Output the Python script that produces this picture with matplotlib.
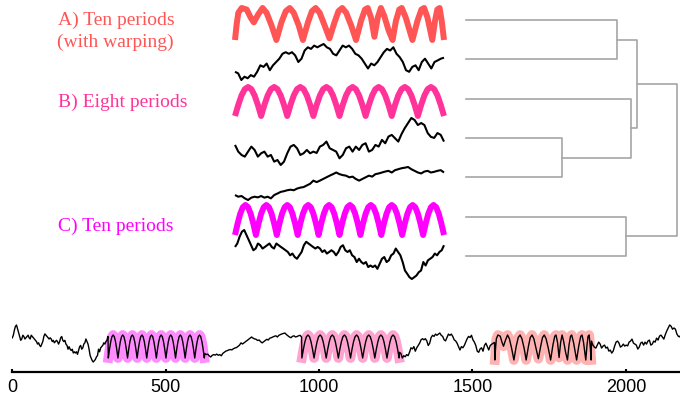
import numpy as np
import matplotlib
matplotlib.use("Agg")
import matplotlib.pyplot as plt

# ---------------- data ----------------
# noise segments of the long series
n1 = [34.2, 36.8, 41.9, 45.7, 47.0, 43.2, 39.4, 35.5, 31.7, 33.0, 36.8, 35.5, 33.0, 34.2,
      35.5, 36.8, 34.2, 33.0, 36.8, 35.5, 34.2, 33.0, 31.7, 30.4, 27.9, 29.2, 26.6, 25.3,
      27.9, 30.4, 35.5, 38.1, 36.8, 35.5, 34.2, 33.0, 34.2, 33.0, 30.4, 31.7, 29.2, 30.4,
      31.7, 30.4, 27.9, 30.4, 34.2, 35.5, 31.7, 30.4, 31.7, 27.9, 26.6, 22.8, 25.3, 22.8,
      21.5, 22.8, 19.0, 20.2, 19.0, 20.2, 17.7, 21.5, 25.3, 26.6, 22.8, 24.1, 27.9, 29.2,
      33.0, 30.4, 27.9, 22.8, 16.4, 13.9, 11.3, 10.0, 11.3, 12.6, 15.1, 16.4, 22.8, 20.2,
      24.1, 25.3, 26.6, 29.2, 27.9, 30.4, 31.7, 35.5]
n2 = [18.6, 17.4, 17.9, 16.2, 15.0, 16.7, 17.4, 16.9, 17.9, 16.7, 17.4, 16.2, 18.6, 19.7,
      20.9, 21.4, 22.1, 22.5, 22.1, 23.3, 24.0, 24.4, 25.6, 26.8, 29.1, 28.0, 29.1, 30.3,
      31.5, 32.7, 33.8, 35.0, 33.8, 33.1, 32.7, 31.5, 32.0, 30.3, 29.1, 30.3, 31.5, 32.7,
      32.0, 33.8, 34.3, 35.0, 35.7, 36.2, 35.0, 36.7, 37.4, 38.1, 38.5, 39.0, 37.4, 36.2,
      35.0, 34.3, 35.7, 36.2, 35.0, 35.5, 36.2, 36.7, 35.0]
n3 = [19.7, 18.6, 14.0, 16.3, 15.2, 17.4, 16.3, 19.7, 24.2, 23.1, 25.4, 20.8, 24.2, 26.5,
      28.8, 32.2, 33.3, 32.2, 33.3, 31.1, 26.5, 28.8, 34.5, 36.7, 35.6, 37.9, 36.7, 37.9,
      39.0, 36.7, 35.6, 32.2, 31.1, 34.5, 37.9, 36.7, 37.9, 35.6, 32.2, 31.1, 28.8, 25.4,
      22.0, 25.4, 24.2, 26.5, 29.9, 33.3, 35.6, 34.5, 36.7, 32.2, 29.9, 26.5, 20.8, 19.7,
      23.1, 24.2, 20.8, 26.5, 28.8, 25.4, 22.0, 26.5, 27.6, 28.8, 29.5]
n4 = [30.9, 26.9, 24.9, 23.9, 26.9, 29.9, 27.9, 23.9, 25.9, 26.9, 23.9, 24.9, 20.9, 21.9,
      18.9, 20.9, 25.9, 29.9, 30.9, 28.9, 24.9, 25.9, 27.9, 25.9, 26.9, 26.1, 29.9, 30.9,
      32.9, 28.9, 27.9, 26.9, 22.9, 24.9, 28.9, 29.9, 26.9, 29.9, 27.9, 30.9, 31.9, 26.9,
      27.9, 30.9, 29.9, 33.9, 31.9, 35.9, 36.9, 34.9, 32.9, 37.4, 41.0, 44.0, 47.0, 45.8,
      42.8, 44.0, 42.8, 38.0, 35.7, 35.1, 38.0, 36.9, 32.9]

# C) ten periods
wave_c = [14, 22.8, 30.3, 35.3, 37, 35.3, 30.3, 22.8,
          14, 22.8, 30.3, 35.3, 37, 35.3, 30.3, 22.8,
          14, 22.8, 30.3, 35.3, 37, 35.3, 30.3, 22.8,
          14, 22.8, 30.3, 35.3, 37, 35.3, 30.3, 22.8,
          14, 22.8, 30.3, 35.3, 37, 35.3, 30.3, 22.8,
          14, 22.8, 30.3, 35.3, 37, 35.3, 30.3, 22.8,
          14, 22.8, 30.3, 35.3, 37, 35.3, 30.3, 22.8,
          14, 22.8, 30.3, 35.3, 37, 35.3, 30.3, 22.8,
          14, 22.8, 30.3, 35.3, 37, 35.3, 30.3, 22.8,
          14, 22.8, 30.3, 35.3, 37, 35.3, 30.3, 22.8,
          14]
# B) eight periods
wave_b = [14, 22.8, 30.3, 35.3, 37, 35.3, 30.3, 22.8,
          14, 22.8, 30.3, 35.3, 37, 35.3, 30.3, 22.8,
          14, 22.8, 30.3, 35.3, 37, 35.3, 30.3, 22.8,
          14, 22.8, 30.3, 35.3, 37, 35.3, 30.3, 22.8,
          14, 22.8, 30.3, 35.3, 37, 35.3, 30.3, 22.8,
          14, 22.8, 30.3, 35.3, 37, 35.3, 30.3, 22.8,
          14, 22.8, 30.3, 35.3, 37, 35.3, 30.3, 22.8,
          14, 22.8, 30.3, 35.3, 37, 35.3, 30.3, 22.8,
          14]
# A) ten periods with warping (position as fraction of window, value)
wave_a_pos = [0.000, 0.008, 0.016, 0.032, 0.056, 0.075, 0.090, 0.111, 0.132, 0.151, 0.175,
              0.198, 0.222, 0.243, 0.262, 0.281, 0.305, 0.325, 0.349, 0.368, 0.386, 0.405,
              0.429, 0.452, 0.476, 0.495, 0.513, 0.532, 0.556, 0.579, 0.603, 0.622, 0.635,
              0.651, 0.667, 0.683, 0.698, 0.714, 0.735, 0.754, 0.770, 0.786, 0.798, 0.817,
              0.849, 0.873, 0.892, 0.905, 0.921, 0.944, 0.957, 0.968, 0.979, 0.989, 1.000]
wave_a = [12, 24.5, 33.3, 37, 35.8, 29.5, 25.8, 32, 37, 33.3, 23.3,
          12, 25.8, 34.5, 37, 33.3, 23.3, 12, 25.8, 34.5, 37, 33.3,
          23.3, 13.3, 25.8, 34.5, 37, 33.3, 23.3, 12, 27, 35.8, 37,
          29.5, 14.5, 29.5, 37, 30.8, 19.5, 12, 27, 35.8, 37, 29.5,
          12, 27, 35.8, 37, 29.5, 12, 27, 35.8, 37, 27, 12]

# segment windows on the long series (start, end)
win_n1 = (0, 312)
win_c = (313, 626)
win_n2 = (627, 943)
win_b = (944, 1261)
win_n3 = (1262, 1572)
win_a = (1573, 1887)
win_n4 = (1888, 2190)

x_ticks = [0, 500, 1000, 1500, 2000]
labels = ["A) Ten periods", "(with warping)", "B) Eight periods", "C) Ten periods"]

# dendrogram: leaves top->bottom = A, N3, B, N4, N2, C, N1
dend_merges = [(3, 4, 0.96), (0, 1, 1.51), (5, 6, 1.60), (2, 7, 1.65), (8, 10, 1.71), (11, 9, 2.11)]

col_a = "#FF5555"
col_b = "#FF3399"
col_c = "#FF00FF"

# ---------------- figure ----------------
W, H = 680, 399
fig = plt.figure(figsize=(6.8, 3.99), dpi=100)


def px_axes(x0, y0, x1, y1):
    ax = fig.add_axes([x0 / W, 1 - y1 / H, (x1 - x0) / W, (y1 - y0) / H])
    return ax


def seg_x(win, n):
    return np.linspace(win[0], win[1], n)


xa = win_a[0] + np.array(wave_a_pos) * (win_a[1] - win_a[0])
segments = {
    "N1": (seg_x(win_n1, len(n1)), np.array(n1)),
    "C": (seg_x(win_c, len(wave_c)), np.array(wave_c)),
    "N2": (seg_x(win_n2, len(n2)), np.array(n2)),
    "B": (seg_x(win_b, len(wave_b)), np.array(wave_b)),
    "N3": (seg_x(win_n3, len(n3)), np.array(n3)),
    "A": (xa, np.array(wave_a)),
    "N4": (seg_x(win_n4, len(n4)), np.array(n4)),
}

# ---- bottom long series ----
axb = px_axes(12.3, 315, 680, 372)
order = ["N1", "C", "N2", "B", "N3", "A", "N4"]
xs = np.concatenate([segments[k][0] for k in order])
ys = np.concatenate([segments[k][1] for k in order])
for k, c in (("C", col_c), ("B", col_b), ("A", col_a)):
    sx, sy = segments[k]
    axb.plot(sx, sy, color=c, lw=7, alpha=0.45, solid_joinstyle="round", zorder=1)
axb.plot(xs, ys, color="black", lw=1.0, zorder=2)
axb.set_xlim(0, 2176.6)
axb.set_ylim(0, 57)
for s in ("top", "left", "right"):
    axb.spines[s].set_visible(False)
axb.spines["bottom"].set_linewidth(1.6)
axb.set_yticks([])
axb.set_xticks(x_ticks)
axb.tick_params(axis="x", direction="in", length=2.5, width=1.5, pad=5, labelsize=13)
for t in axb.get_xticklabels():
    t.set_fontfamily("Liberation Sans")
axb.patch.set_alpha(0)

# ---- top snippets ----
bands = [("A", 8, 40, col_a, 4.3), ("N3", 44, 80, "black", 1.5), ("B", 87, 116, col_b, 4.3),
         ("N4", 118, 165, "black", 1.5), ("N2", 167, 200, "black", 1.5),
         ("C", 205, 235, col_c, 4.3), ("N1", 230, 279, "black", 1.5)]
for k, y0, y1, c, lw in bands:
    sx, sy = segments[k]
    ax = px_axes(235, y0, 444, y1)
    ax.plot(sx, sy, color=c, lw=lw, clip_on=False, solid_joinstyle="round",
            solid_capstyle="butt")
    ax.set_xlim(sx.min(), sx.max())
    ax.set_ylim(sy.min(), sy.max())
    ax.axis("off")

# ---- dendrogram ----
axd = px_axes(466, 20 - 19.67, 680, 256 + 19.67)
node_y = {i: float(i) for i in range(7)}
node_h = {i: 0.0 for i in range(7)}
nid = 7
for a, b, h in dend_merges:
    ya, yb = node_y[a], node_y[b]
    axd.plot([node_h[a], h, h, node_h[b]], [ya, ya, yb, yb], color="#A6A6A6", lw=1.2,
             clip_on=False)
    node_y[nid] = (ya + yb) / 2
    node_h[nid] = h
    nid += 1
axd.set_xlim(0, 2.14)
axd.set_ylim(6.5, -0.5)
axd.axis("off")

# ---- labels ----
txt_kw = dict(fontsize=14, family="Liberation Serif", va="baseline", ha="left")
fig.text(58 / W, 1 - 25 / H, labels[0], color=col_a, **txt_kw)
fig.text(57 / W, 1 - 47 / H, labels[1], color=col_a, **txt_kw)
fig.text(58 / W, 1 - 107 / H, labels[2], color=col_b, **txt_kw)
fig.text(58 / W, 1 - 231 / H, labels[3], color=col_c, **txt_kw)

fig.savefig("out.png", dpi=100)
